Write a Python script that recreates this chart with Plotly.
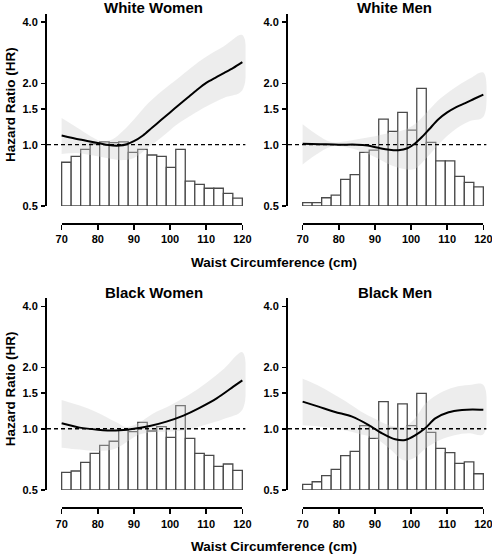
import math
import plotly.graph_objects as go

W, H = 492, 555
FONT = "Liberation Sans, Arial, sans-serif"

titles = ["White Women", "White Men", "Black Women", "Black Men"]
x_ticks = [70, 80, 90, 100, 110, 120]
y_ticks = [0.5, 1.0, 1.5, 2.0, 4.0]
y_tick_text = ["0.5", "1.0", "1.5", "2.0", "4.0"]

# histogram bins 70..120 (19 bins), bar tops read on HR scale
n_bins = 19
ww_bars = [0.82, 0.877, 0.949, 1.008, 1.031, 1.023, 1.031, 0.917, 0.949, 0.89, 0.877,
           0.774, 0.949, 0.663, 0.639, 0.611, 0.611, 0.577, 0.547]
wm_bars = [0.519, 0.519, 0.549, 0.566, 0.676, 0.712, 0.917, 0.941, 1.336, 1.163, 1.441,
           1.18, 1.89, 1.027, 0.832, 0.832, 0.699, 0.653, 0.62]
bw_bars = [0.611, 0.620, 0.684, 0.757, 0.829, 0.868, 0.986, 0.968, 1.076, 0.975, 1.024,
           0.908, 1.299, 0.897, 0.757, 0.740, 0.654, 0.671, 0.625]
bm_bars = [0.533, 0.549, 0.588, 0.632, 0.738, 0.775, 1.036, 0.897, 1.36, 1.005, 1.324,
           1.036, 1.494, 0.960, 0.801, 0.763, 0.676, 0.687, 0.601]

# spline estimate of HR
ww_x = [70, 75, 80, 83, 86, 88, 90, 92.5, 95, 97.5, 100, 102.5, 105, 107.5, 110, 112.5, 115, 117.5, 120]
ww_hr = [1.11, 1.06, 1.02, 0.995, 0.99, 1.005, 1.04, 1.11, 1.21, 1.32, 1.44, 1.57, 1.71, 1.86, 2.01, 2.13, 2.25, 2.38, 2.54]
wm_x = [70, 75, 80, 85, 88, 91, 94, 96.5, 99, 101, 103, 105, 107.5, 110, 112.5, 115, 117.5, 120]
wm_hr = [1.01, 1.005, 1.0, 1.0, 0.99, 0.965, 0.945, 0.94, 0.96, 1.01, 1.09, 1.19, 1.33, 1.44, 1.53, 1.6, 1.68, 1.76]
bw_x = [70, 75, 80, 85, 90, 94.4, 99, 103.7, 108.3, 112.9, 117.5, 120]
bw_hr = [1.064, 1.013, 0.99, 0.98, 1.0, 1.032, 1.084, 1.16, 1.27, 1.41, 1.61, 1.73]
bm_x = [70, 74.4, 79, 83.7, 88.3, 92, 95.6, 98.4, 101.2, 103.9, 106.7, 110.4, 114.1, 117, 120]
bm_hr = [1.36, 1.285, 1.21, 1.147, 1.043, 0.95, 0.888, 0.88, 0.93, 1.005, 1.125, 1.205, 1.237, 1.245, 1.24]

# 95% confidence bands
ww_bx = [70, 74, 78, 81, 84, 87, 90, 94, 98, 102, 106, 110, 115, 120]
ww_hi = [1.35, 1.22, 1.10, 1.04, 1.06, 1.17, 1.33, 1.6, 1.85, 2.1, 2.4, 2.7, 3.05, 3.45]
ww_lo = [0.90, 0.91, 0.89, 0.87, 0.85, 0.84, 0.86, 0.97, 1.1, 1.26, 1.4, 1.54, 1.7, 1.85]
wm_bx = [70, 74, 78, 82, 86, 90, 94, 98, 101, 104, 108, 112, 116, 120]
wm_hi = [1.26, 1.12, 1.03, 1.04, 1.07, 1.1, 1.14, 1.18, 1.26, 1.42, 1.68, 1.9, 2.1, 2.26]
wm_lo = [0.80, 0.90, 0.98, 0.97, 0.93, 0.87, 0.80, 0.76, 0.76, 0.85, 1.02, 1.18, 1.3, 1.37]
bw_bx = [70, 75, 80, 85, 88, 91, 95, 100, 105, 110, 115, 120]
bw_hi = [1.385, 1.3, 1.2, 1.08, 1.02, 1.06, 1.18, 1.3, 1.46, 1.68, 1.98, 2.38]
bw_lo = [0.807, 0.79, 0.777, 0.8, 0.86, 0.93, 0.96, 0.97, 0.99, 1.05, 1.12, 1.24]
bm_bx = [70, 74, 78, 82, 86, 90, 94, 98, 101, 104, 108, 112, 116, 120]
bm_hi = [1.76, 1.64, 1.5, 1.36, 1.22, 1.12, 1.04, 1.02, 1.12, 1.33, 1.5, 1.6, 1.64, 1.64]
bm_lo = [1.04, 1.03, 1.01, 0.98, 0.94, 0.9, 0.8, 0.70, 0.72, 0.8, 0.88, 0.93, 0.95, 0.94]

panels = [
    (ww_bars, ww_x, ww_hr, ww_bx, ww_hi, ww_lo),
    (wm_bars, wm_x, wm_hr, wm_bx, wm_hi, wm_lo),
    (bw_bars, bw_x, bw_hr, bw_bx, bw_hi, bw_lo),
    (bm_bars, bm_x, bm_hr, bm_bx, bm_hi, bm_lo),
]

# layout geometry (pixels)
PXU = 3.614                 # px per cm
XR = [65.95, 120.9]
PW = (XR[1] - XR[0]) * PXU
lefts = [47, 288, 47, 288]
tops = [14, 14, 298.3, 298.3]
bottoms = [206, 206, 490, 490]
xlines = [224, 224, 508.3, 508.3]
YR = [math.log10(0.5), math.log10(4.379)]

def fx(px):
    return px / W

def fy(py):
    return 1 - py / H

fig = go.Figure()
layout = {}
bw = 50 / n_bins
centers = [70 + (i + 0.5) * bw for i in range(n_bins)]
bold = dict(family=FONT, size=11, color="black", weight="bold")

annotations = []
for i, (bars, cx, chr_, bx, hi, lo) in enumerate(panels):
    k = i + 1
    xa, ya = (f"x{k}" if k > 1 else "x"), (f"y{k}" if k > 1 else "y")
    fig.add_trace(go.Bar(x=centers, y=[t - 0.5 for t in bars], base=0.5, width=bw,
                         marker=dict(color="white", line=dict(color="#4a4a4a", width=1.3)),
                         xaxis=xa, yaxis=ya, hoverinfo="skip"))
    fig.add_trace(go.Scatter(x=bx + bx[::-1], y=hi + lo[::-1], fill="toself",
                             fillcolor="rgba(205,205,205,0.36)", line=dict(width=0, shape="spline"),
                             mode="lines", xaxis=xa, yaxis=ya, hoverinfo="skip"))
    fig.add_trace(go.Scatter(x=XR, y=[1, 1], mode="lines",
                             line=dict(color="black", width=1.3, dash="4px,3px"),
                             xaxis=xa, yaxis=ya, hoverinfo="skip"))
    fig.add_trace(go.Scatter(x=cx, y=chr_, mode="lines",
                             line=dict(color="black", width=2, shape="spline", smoothing=0.8),
                             xaxis=xa, yaxis=ya, hoverinfo="skip"))
    fig.add_trace(go.Scatter(x=[70, 120], y=[1, 1], mode="markers", marker=dict(opacity=0),
                             xaxis=f"x{k+4}", yaxis=ya, hoverinfo="skip"))
    L = lefts[i]
    dom_x = [fx(L), fx(L + PW)]
    dom_y = [fy(bottoms[i]), fy(tops[i])]
    axn = "xaxis" if k == 1 else f"xaxis{k}"
    ayn = "yaxis" if k == 1 else f"yaxis{k}"
    layout[axn] = dict(domain=dom_x, range=XR, visible=False, anchor=ya, fixedrange=True,
                       automargin=False)
    layout[ayn] = dict(domain=dom_y, type="log", range=YR, anchor=xa, showline=True,
                       linecolor="black", linewidth=2, ticks="outside", ticklen=4,
                       tickwidth=1.5, tickcolor="black", tickvals=y_ticks, ticktext=y_tick_text,
                       tickfont=bold, showgrid=False, zeroline=False, ticklabelstandoff=1,
                       automargin=False, ticklabeloverflow="allow", fixedrange=True)
    x70 = L + (70 - XR[0]) * PXU
    x120 = L + (120 - XR[0]) * PXU
    layout[f"xaxis{k+4}"] = dict(domain=[fx(x70), fx(x120)], range=[70, 120], anchor="free",
                                 position=fy(xlines[i]), showline=True, linecolor="black",
                                 linewidth=2, ticks="outside", ticklen=5, tickwidth=1.5,
                                 tickcolor="black", tickvals=x_ticks, tickfont=bold,
                                 showgrid=False, zeroline=False, automargin=False,
                                 ticklabeloverflow="allow", fixedrange=True)
    annotations.append(dict(text=f"<b>{titles[i]}</b>", x=fx((x70 + x120) / 2 + 2), y=fy(tops[i] - 6),
                            xref="paper", yref="paper", showarrow=False, xanchor="center",
                            yanchor="middle", font=dict(family=FONT, size=15, color="black")))

for r in range(2):
    yc = (tops[2 * r] + bottoms[2 * r]) / 2 - 5
    annotations.append(dict(text="<b>Hazard Ratio (HR)</b>", x=fx(10), y=fy(yc), xref="paper",
                            yref="paper", showarrow=False, textangle=-90, xanchor="center",
                            yanchor="middle", font=dict(family=FONT, size=13.5, color="black")))
    annotations.append(dict(text="<b>Waist Circumference (cm)</b>", x=fx(273.5),
                            y=fy(xlines[2 * r] + 38), xref="paper", yref="paper", showarrow=False,
                            xanchor="center", yanchor="middle",
                            font=dict(family=FONT, size=13.5, color="black")))

fig.update_layout(width=W, height=H, margin=dict(l=0, r=0, t=0, b=0, autoexpand=False),
                  showlegend=False, plot_bgcolor="rgba(0,0,0,0)", paper_bgcolor="white",
                  bargap=0, annotations=annotations, **layout)
fig.write_html("out.html", config={"displayModeBar": False, "staticPlot": True},
               post_script="document.body.style.margin='0';document.body.style.overflow='hidden';")
